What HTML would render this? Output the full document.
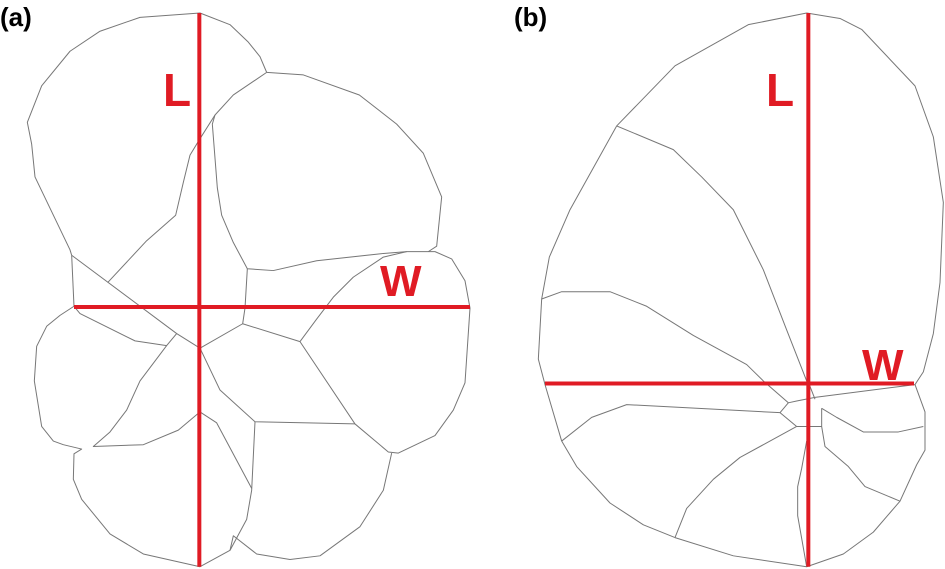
<!DOCTYPE html>
<html><head><meta charset="utf-8"><style>
html,body{margin:0;padding:0;background:#fff;}
svg{display:block;}
text{font-family:"Liberation Sans",sans-serif;font-weight:bold;}
.g{fill:none;stroke:#777;stroke-width:1;vector-effect:non-scaling-stroke;stroke-linejoin:round;}
.r{stroke:#e01b24;stroke-width:4;vector-effect:non-scaling-stroke;}
</style></head><body>
<svg width="945" height="569" viewBox="0 0 945 569" xmlns="http://www.w3.org/2000/svg">
<text x="0" y="26" font-size="26" fill="#000">(a)</text>
<text x="514" y="26" font-size="26" fill="#000">(b)</text>
<g transform="translate(0,-1.57) scale(0.3333333,0.3643)">
<polyline class="g" points="215,705 222,845"/>
<polyline class="g" points="215,705 210,690 105,490 95,400 82,340 125,240 210,145 300,90 420,52 600,40 690,72 745,120 780,160 800,203"/>
<polyline class="g" points="800,203 910,210 1078,265 1190,345 1270,425 1325,545 1310,680 1285,695"/>
<polyline class="g" points="800,203 700,265 645,320 637,345 652,520 665,595 700,670 742,742 820,747 950,720 1150,700 1220,695"/>
<polyline class="g" points="645,320 600,385 570,430 550,505 527,595 440,665 323,780"/>
<polyline class="g" points="222,845 180,870 140,900 110,955 103,1050 125,1175 160,1215 190,1225 245,1237 222,1250 220,1320 245,1375 330,1470 430,1525 600,1560 690,1515 740,1430 755,1350 765,1162"/>
<polyline class="g" points="215,705 530,920 600,960"/>
<polyline class="g" points="222,845 240,865 405,940 500,953 530,920"/>
<polyline class="g" points="500,953 420,1050 380,1130 330,1190 280,1230 430,1225 535,1185 600,1135 650,1165 755,1345"/>
<polyline class="g" points="600,960 660,1075 765,1162 1065,1168"/>
<polyline class="g" points="600,960 728,893 735,850 742,742"/>
<polyline class="g" points="728,893 900,942 1065,1168 1165,1245 1195,1248 1305,1200 1360,1130 1395,1055 1410,850 1395,775 1355,715 1305,695 1220,695 1150,710 1060,765 1000,820 950,880 900,942"/>
<polyline class="g" points="1175,1248 1150,1350 1080,1450 960,1530 870,1540 770,1525 700,1475 690,1515"/>
<line class="r" x1="598" y1="40" x2="598" y2="1560"/>
<line class="r" x1="222" y1="847" x2="1410" y2="847"/>
</g>
<text x="163" y="106" font-size="46" fill="#e01b24">L</text>
<text x="380" y="296" font-size="44" fill="#e01b24">W</text>
<g transform="translate(500,-1.57) scale(0.3333333,0.3643)">
<polyline class="g" points="920,40 745,72 525,185 350,350 210,580 148,710 125,825 115,990 135,1060 185,1215 230,1285 330,1385 430,1445 525,1480 700,1530 920,1560 1030,1525 1120,1465 1200,1380 1250,1280 1275,1240 1275,1135 1245,1060 1270,1025 1300,920 1320,780 1330,560 1300,380 1245,240 1085,85 1020,55 920,40"/>
<polyline class="g" points="350,350 520,415 605,490 700,580 790,745 860,910 920,1050"/>
<polyline class="g" points="125,825 185,805 330,805 440,845 580,925 740,1005 790,1050 865,1110 890,1105 945,1095 1245,1060"/>
<polyline class="g" points="920,1050 930,1065 945,1100"/>
<polyline class="g" points="185,1215 275,1150 380,1115 840,1137 865,1110"/>
<polyline class="g" points="840,1137 890,1175 965,1175"/>
<polyline class="g" points="890,1175 720,1260 640,1320 560,1400 525,1480"/>
<polyline class="g" points="920,1215 905,1290 893,1340 893,1420 920,1560"/>
<polyline class="g" points="965,1125 965,1175 975,1230 1045,1285 1095,1340 1200,1380"/>
<polyline class="g" points="965,1125 1010,1150 1090,1190 1195,1190 1270,1175"/>
<line class="r" x1="925" y1="40" x2="925" y2="1560"/>
<line class="r" x1="135" y1="1057" x2="1242" y2="1057"/>
</g>
<text x="766" y="106" font-size="46" fill="#e01b24">L</text>
<text x="862" y="380" font-size="44" fill="#e01b24">W</text>
</svg>
</body></html>
